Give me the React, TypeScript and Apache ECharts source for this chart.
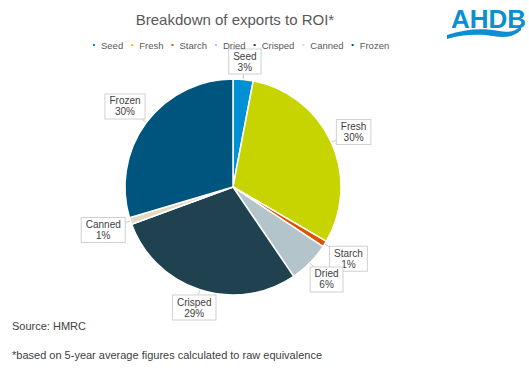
import React, { useEffect, useRef } from "react";
import * as echarts from "echarts";

const categories = ["Seed", "Fresh", "Starch", "Dried", "Crisped", "Canned", "Frozen"];
const shares = [3.0, 30.4, 0.9, 6.2, 28.9, 1.0, 29.6];
const colors = ["#0090d4", "#c8d400", "#e05206", "#b3c5ca", "#1f4150", "#e3d9bd", "#00557f"];
const titleText = "Breakdown of exports to ROI*";
const sourceText = "Source: HMRC";
const noteText = "*based on 5-year average figures calculated to raw equivalence";

const wavePath =
  "M0,9 C18,3 36,2 52,5 C62,7 69,5 74,0 L74,4 C67,11 58,12 46,10 C32,8 16,8 0,13 Z";
echarts.graphic.registerShape("ahdbwave", (echarts.graphic as any).extendPath(wavePath, {}));

const CX = 233;
const CY = 187;
const R = 108;
const GAP = 5;

export default function App() {
  const ref = useRef<HTMLDivElement>(null);
  useEffect(() => {
    if (!ref.current) return;
    const chart = echarts.init(ref.current, undefined, { renderer: "svg" });
    chart.setOption({
      animation: false,
      backgroundColor: "#ffffff",
      textStyle: { fontFamily: "Liberation Sans, Arial, sans-serif" },
      title: {
        text: titleText,
        left: 230,
        textAlign: "center",
        top: 7,
        textStyle: { fontSize: 15, fontWeight: "normal", color: "#595959" },
      },
      legend: {
        data: categories,
        top: 35,
        left: 86,
        icon: "rect",
        itemWidth: 4,
        itemHeight: 4,
        itemGap: 6,
        textStyle: { fontSize: 9.5, color: "#595959" },
      },
      color: colors,
      series: [
        {
          type: "pie",
          center: [CX, CY],
          radius: R,
          startAngle: 90,
          clockwise: true,
          data: categories.map((c, i) => ({ name: c, value: shares[i] })),
          itemStyle: { borderColor: "#ffffff", borderWidth: 1.5 },
          label: {
            show: true,
            position: "outside",
            formatter: (p: any) => `{c|${p.name}}\n{c|${Math.round(p.value)}%}`,
            rich: { c: { fontSize: 10, lineHeight: 11, color: "#404040", align: "center" } },
            backgroundColor: "#ffffff",
            borderColor: "#d0d0d0",
            borderWidth: 1,
            padding: [1, 4, 1, 4],
          },
          labelLine: { show: true, length: 8, length2: 0, lineStyle: { color: "#c8c8c8", width: 1 } },
          labelLayout: (params: any) => {
            const pts = params.labelLinePoints;
            const lr = params.labelRect;
            if (!pts || !lr) return {};
            const p0 = pts[0];
            const vx = p0[0] - CX;
            const vy = p0[1] - CY;
            const len = Math.sqrt(vx * vx + vy * vy) || 1;
            const ux = vx / len;
            const uy = vy / len;
            const hw = lr.width / 2;
            const hh = lr.height / 2;
            const t = Math.min(Math.abs(ux) > 1e-6 ? hw / Math.abs(ux) : 1e9, Math.abs(uy) > 1e-6 ? hh / Math.abs(uy) : 1e9);
            const d = R + GAP + t;
            const bx = CX + ux * d;
            const by = CY + uy * d;
            const cx0 = lr.x + hw;
            const cy0 = lr.y + hh;
            return {
              dx: bx - cx0,
              dy: by - cy0,
              labelLinePoints: [
                [CX + ux * R, CY + uy * R],
                [bx - ux * t, by - uy * t],
              ],
            };
          },
          emphasis: { disabled: true },
        },
      ],
      graphic: [
        {
          type: "text",
          left: 12,
          top: 320,
          style: { text: sourceText, fontSize: 11, fill: "#404040", fontFamily: "Liberation Sans, Arial, sans-serif" },
        },
        {
          type: "text",
          left: 12,
          top: 349,
          style: { text: noteText, fontSize: 11, fill: "#404040", fontFamily: "Liberation Sans, Arial, sans-serif" },
        },
        {
          type: "text",
          left: 451,
          top: 6,
          style: { text: "AHDB", fontSize: 26, fontWeight: "bold", fill: "#0a8fd0", fontFamily: "Liberation Sans, Arial, sans-serif" },
        },
        {
          type: "ahdbwave",
          x: 447,
          y: 26,
          style: { fill: "#0a8fd0" },
        },
      ],
    });
    return () => chart.dispose();
  }, []);
  return <div ref={ref} style={{ position: "fixed", left: 0, top: 0, width: 529, height: 373 }} />;
}
